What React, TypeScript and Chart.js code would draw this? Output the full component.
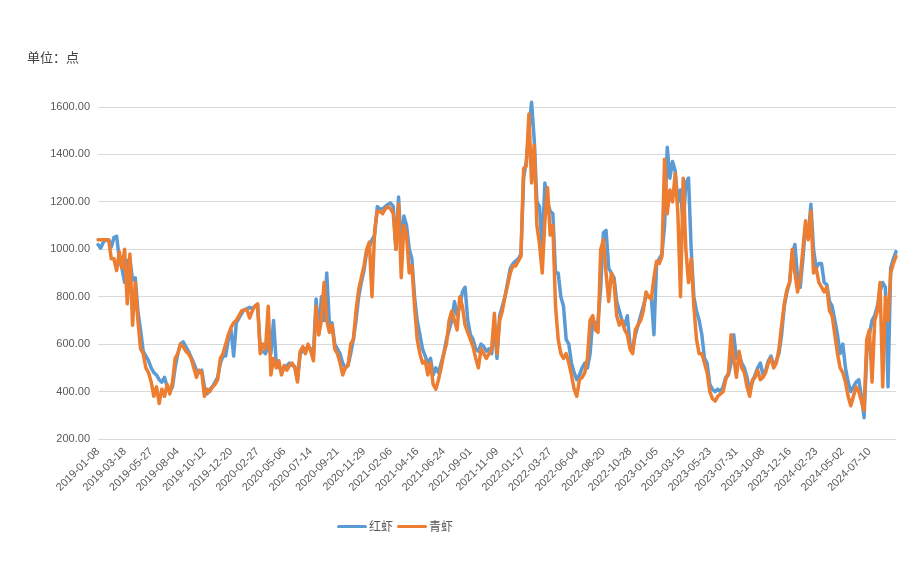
import React, { useEffect, useRef } from 'react';
import { Chart, registerables } from 'chart.js';

Chart.register(...registerables);

const unitLabel = '单位：点';
const seriesNames = ['红虾', '青虾'];
const seriesColors = ['#5B9BD5', '#ED7D31'];

const xTickLabels = [
  '2019-01-08', '2019-03-18', '2019-05-27', '2019-08-04', '2019-10-12', '2019-12-20',
  '2020-02-27', '2020-05-06', '2020-07-14', '2020-09-21', '2020-11-29', '2021-02-06',
  '2021-04-16', '2021-06-24', '2021-09-01', '2021-11-09', '2022-01-17', '2022-03-27',
  '2022-06-04', '2022-08-20', '2022-10-28', '2023-01-05', '2023-03-15', '2023-05-23',
  '2023-07-31', '2023-10-08', '2023-12-16', '2024-02-23', '2024-05-02', '2024-07-10',
];

const yMin = 200;
const yMax = 1600;
const yStep = 200;

// 红虾
const redShrimp = [
  1020, 1005, 1030, 1040, 1040, 1010, 1050, 1055, 960, 920,
  860, 950, 960, 870, 880, 740, 660, 570, 550, 530,
  500, 480, 470, 450, 440, 460, 420, 400, 420, 500,
  560, 600, 610, 590, 570, 545, 520, 490, 480, 490,
  420, 390, 410, 420, 440, 460, 520, 550, 550, 620,
  660, 550, 690, 710, 730, 745, 750, 755, 750, 760,
  765, 580, 570, 560, 600, 560, 700, 520, 510, 480,
  500, 510, 520, 510, 505, 450, 560, 570, 580, 590,
  580, 560, 790, 640, 800, 700, 900, 680, 690, 600,
  580, 560, 520, 500, 510, 560, 620, 700, 800, 860,
  910, 990, 1010, 1040, 1060, 1180, 1170, 1170, 1180, 1190,
  1195, 1180, 1000, 1220, 1000, 1140, 1100, 1000, 960, 800,
  700, 640, 580, 550, 520, 540, 470, 500, 480, 520,
  560, 620, 660, 700, 780, 720, 760, 820, 840, 700,
  640, 620, 580, 570, 600, 590, 570, 580, 560, 680,
  540, 720, 760, 800, 860, 920, 940, 950, 960, 980,
  1300, 1370, 1500, 1620, 1460, 1200, 1180, 1000, 1280, 1200,
  1160, 1150, 900, 900, 800, 760, 620, 600, 520, 480,
  450, 470, 500, 520, 500, 560, 700, 680, 700, 840,
  1070, 1080, 920, 900, 880, 780, 740, 700, 680, 720,
  600, 580, 640, 680, 720, 760, 800, 800, 800, 640,
  940, 960, 980, 1100, 1430, 1300, 1370, 1330, 1200, 1250,
  1100, 1280, 1300, 1000, 800, 740, 700, 640, 540, 520,
  430, 410, 400, 410, 400, 420, 460, 470, 520, 640,
  540, 560, 520, 500, 460, 400, 440, 470, 500, 520,
  470, 490, 530, 550, 510, 530, 560, 640, 760, 820,
  860, 980, 1020, 880, 840, 960, 1100, 1050, 1190, 1000,
  920, 940, 940, 860, 850, 780, 760, 700, 640, 560,
  600, 500, 440, 400, 420, 440, 450, 380, 290, 560,
  640, 700, 720, 760, 820, 860, 840, 420, 920, 960,
  990,
];

// 青虾
const cyanShrimp = [
  1040, 1040, 1040, 1040, 1040, 960, 960, 910, 990, 920,
  1000, 770, 980, 680, 860, 700, 580, 560, 500, 480,
  440, 380, 420, 350, 410, 380, 430, 390, 440, 540,
  560, 600, 590, 570, 560, 540, 500, 460, 490, 480,
  380, 410, 400, 420, 430, 450, 540, 560, 600, 640,
  670, 690, 700, 720, 740, 745, 745, 710, 740, 760,
  770, 560, 600, 580, 760, 470, 540, 500, 530, 470,
  510, 490, 510, 520, 500, 440, 570, 590, 560, 600,
  570, 530, 760, 640, 700, 860, 700, 650, 680, 580,
  560, 520, 470, 500, 510, 600, 620, 740, 830, 880,
  930, 1000, 1030, 800, 1080, 1160, 1160, 1150, 1170, 1180,
  1170, 1150, 1000, 1190, 880, 1100, 1060, 900, 930, 760,
  620, 560, 520, 530, 470, 520, 430, 410, 450, 500,
  560, 600, 700, 740, 700, 660, 800, 760, 680, 650,
  620, 590, 540, 500, 580, 560, 540, 560, 580, 730,
  560, 700, 740, 800, 850, 900, 930, 930, 950, 970,
  1340, 1350, 1570, 1280, 1440, 1100, 1020, 900, 1120, 1260,
  1060, 1100, 760, 620, 560, 540, 560, 520, 470, 410,
  380, 450, 460, 480, 540, 700, 720, 660, 650, 1000,
  1040, 900, 780, 900, 860, 720, 680, 700, 660, 640,
  580, 560, 660, 680, 700, 740, 820, 800, 790, 880,
  950, 940, 970, 1380, 1150, 1250, 1200, 1320, 1150, 800,
  1300, 1000, 860, 960, 760, 620, 560, 560, 520, 480,
  400, 370, 360, 380, 390, 400, 450, 480, 640, 540,
  460, 570, 500, 480, 420, 380, 450, 460, 490, 450,
  460, 480, 520, 540, 500, 520, 580, 680, 770, 830,
  860, 1000, 900, 820, 880, 1000, 1120, 1040, 1160, 900,
  920, 860, 840, 820, 840, 740, 720, 640, 560, 500,
  480, 440, 380, 340, 380, 420, 400, 360, 320, 620,
  660, 440, 700, 740, 860, 420, 800, 700, 900, 940,
  970,
];

const seriesValues = [redShrimp, cyanShrimp];

export default function App() {
  const canvasRef = useRef<HTMLCanvasElement | null>(null);

  useEffect(() => {
    if (!canvasRef.current) return;
    const lastIndex = redShrimp.length - 1;
    const chart = new Chart(canvasRef.current, {
      type: 'line',
      data: {
        datasets: seriesValues.map((vals, k) => ({
          label: seriesNames[k],
          data: vals.map((y, i) => ({ x: i, y })),
          borderColor: seriesColors[k],
          backgroundColor: seriesColors[k],
          borderWidth: 3.5,
          pointRadius: 0,
          pointHoverRadius: 0,
          tension: 0,
          order: k === 0 ? 1 : 0,
          clip: false as any,
          borderJoinStyle: 'round' as const,
          borderCapStyle: 'round' as const,
        })),
      },
      options: {
        responsive: false,
        animation: false,
        events: [],
        layout: { padding: { left: 0, top: 107, right: 10, bottom: 82 } },
        plugins: {
          legend: { display: false },
          tooltip: { enabled: false },
          title: { display: false },
        },
        scales: {
          x: {
            type: 'linear',
            min: 0,
            max: lastIndex,
            grid: { display: false, drawTicks: false },
            border: { display: false },
            ticks: {
              stepSize: 10,
              autoSkip: false,
              maxRotation: 45,
              minRotation: 45,
              padding: 6,
              color: '#595959',
              font: { family: 'Liberation Sans, Arial, sans-serif', size: 11 },
              callback: (v: any) => xTickLabels[Math.round(Number(v) / 10)] ?? '',
            },
            afterFit: (s: any) => {
              s.height = 60;
              s.paddingRight = 0;
              s.paddingLeft = 0;
            },
          },
          y: {
            min: yMin,
            max: yMax,
            grid: { color: '#d9d9d9', drawTicks: false, lineWidth: 1 },
            border: { display: false },
            ticks: {
              stepSize: yStep,
              padding: 8,
              color: '#595959',
              font: { family: 'Liberation Sans, Arial, sans-serif', size: 11 },
              callback: (v: any) => Number(v).toFixed(2),
            },
            afterFit: (s: any) => {
              s.width = 98;
            },
          },
        },
      },
    });
    return () => chart.destroy();
  }, []);

  return (
    <div
      style={{
        position: 'fixed',
        left: 0,
        top: 0,
        width: 906,
        height: 581,
        background: '#ffffff',
        overflow: 'hidden',
      }}
    >
      <canvas ref={canvasRef} width={906} height={581} style={{ position: 'absolute', left: 0, top: 0 }} />
      <div
        style={{
          position: 'absolute',
          left: 27,
          top: 50,
          fontFamily: '"Noto Sans CJK SC", sans-serif',
          fontSize: 13,
          lineHeight: '14px',
          color: '#404040',
          whiteSpace: 'nowrap',
        }}
      >
        {unitLabel}
      </div>
      <div
        style={{
          position: 'absolute',
          left: 337,
          top: 519,
          display: 'flex',
          alignItems: 'center',
          fontFamily: '"Noto Sans CJK SC", sans-serif',
          fontSize: 12,
          lineHeight: '14px',
          color: '#595959',
          whiteSpace: 'nowrap',
        }}
      >
        {seriesNames.map((name, k) => (
          <div key={name} style={{ display: 'flex', alignItems: 'center', marginRight: 4 }}>
            <span
              style={{
                display: 'inline-block',
                width: 30,
                height: 3,
                borderRadius: 1.5,
                background: seriesColors[k],
                marginRight: 2,
              }}
            />
            <span>{name}</span>
          </div>
        ))}
      </div>
    </div>
  );
}
